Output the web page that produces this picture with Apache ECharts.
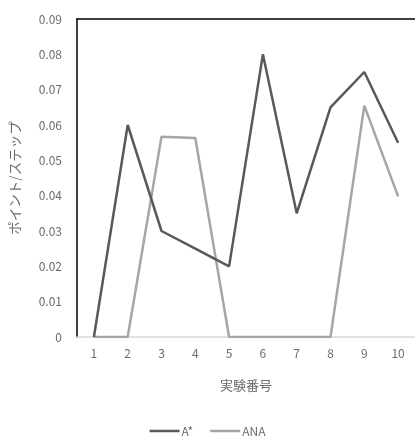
<!DOCTYPE html>
<html>
<head>
<meta charset="utf-8">
<script src="https://cdn.jsdelivr.net/npm/echarts@6/dist/echarts.min.js"></script>
<style>
  html, body { margin: 0; padding: 0; background: #fff; }
  #chart { width: 415px; height: 438px; }
</style>
</head>
<body>
<div id="chart"></div>
<script>
// Experiment numbers and points-per-step for each search algorithm
const categories = ['1', '2', '3', '4', '5', '6', '7', '8', '9', '10'];
const aStar = [0, 0.06, 0.03, 0.025, 0.02, 0.08, 0.035, 0.065, 0.075, 0.055];
const ana = [0, 0, 0.0567, 0.0563, 0, 0, 0, 0, 0.0655, 0.0398];
const yTicks = { min: 0, max: 0.09, interval: 0.01 };

const font = '"Noto Sans CJK JP", "Noto Sans", sans-serif';
const textGray = '#6b6b6b';

const chart = echarts.init(document.getElementById('chart'), null, { renderer: 'canvas' });
chart.setOption({
  animation: false,
  backgroundColor: '#fff',
  textStyle: { fontFamily: font },
  grid: { left: 77, top: 19, right: -5, bottom: 101, containLabel: false },
  legend: {
    top: 420,
    left: 'center',
    icon: 'rect',
    itemWidth: 30,
    itemHeight: 2.5,
    itemGap: 17,
    textStyle: { color: textGray, fontSize: 12, fontFamily: font, padding: [0, 0, 0, -3] },
    data: ['A*', 'ANA']
  },
  xAxis: [
    {
      type: 'category',
      data: categories,
      boundaryGap: true,
      name: '実験番号',
      nameLocation: 'middle',
      nameGap: 42,
      nameTextStyle: { color: textGray, fontSize: 13, fontFamily: font },
      axisLine: { show: true, lineStyle: { color: '#d9d9d9', width: 1.5 } },
      axisTick: { show: false },
      axisLabel: { color: textGray, fontSize: 12, margin: 10, fontFamily: font }
    },
    {
      type: 'category',
      data: categories,
      position: 'top',
      axisLine: { show: true, lineStyle: { color: '#000', width: 1.5 } },
      axisTick: { show: false },
      axisLabel: { show: false }
    }
  ],
  yAxis: {
    type: 'value',
    min: yTicks.min,
    max: yTicks.max,
    interval: yTicks.interval,
    name: 'ポイント/ステップ',
    nameLocation: 'middle',
    nameGap: 55,
    nameTextStyle: { color: textGray, fontSize: 13.5, fontFamily: font },
    axisLine: { show: true, lineStyle: { color: '#000', width: 1.5 } },
    axisTick: { show: false },
    splitLine: { show: false },
    axisLabel: {
      color: textGray, fontSize: 12, margin: 15, fontFamily: font,
      formatter: v => (v === 0 ? '0' : v.toFixed(2))
    }
  },
  series: [
    {
      name: 'A*',
      type: 'line',
      data: aStar,
      showSymbol: false,
      symbol: 'none',
      itemStyle: { color: '#595959' },
      lineStyle: { color: '#595959', width: 2.5 },
      z: 3
    },
    {
      name: 'ANA',
      type: 'line',
      data: ana,
      showSymbol: false,
      symbol: 'none',
      itemStyle: { color: '#a6a6a6' },
      lineStyle: { color: '#a6a6a6', width: 2.5 },
      z: 2
    }
  ]
});
</script>
</body>
</html>
